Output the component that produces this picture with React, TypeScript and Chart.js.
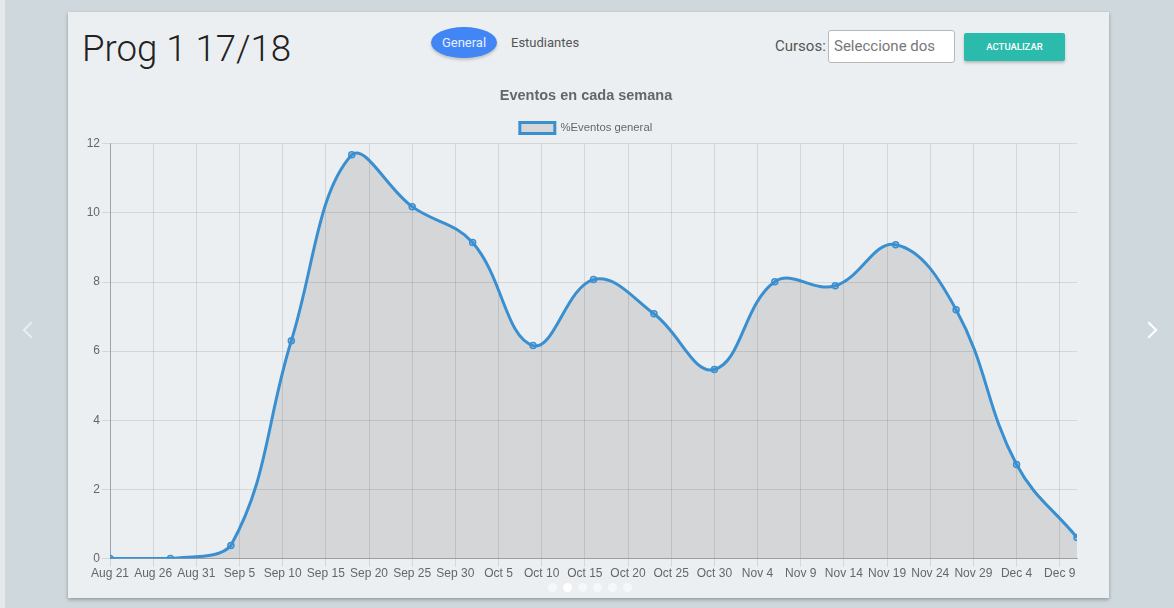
import React, { useEffect, useRef } from "react";
import { Chart, registerables } from "chart.js";

Chart.register(...registerables);

// Days since Aug 21 for each weekly sample
const weekDays = [0, 7, 14, 21, 28, 35, 42, 49, 56, 63, 70, 77, 84, 91, 98, 105, 112];
const eventPercent = [0, 0, 0.38, 6.3, 11.68, 10.18, 9.14, 6.16, 8.07, 7.08, 5.47, 8.01, 7.89, 9.08, 7.2, 2.72, 0.61];

// X axis ticks (days since Aug 21) and their labels
const tickDays = [0, 5, 10, 15, 20, 25, 30, 35, 40, 45, 50, 55, 60, 65, 70, 75, 80, 85, 90, 95, 100, 105, 110];
const tickLabels = [
  "Aug 21", "Aug 26", "Aug 31", "Sep 5", "Sep 10", "Sep 15", "Sep 20", "Sep 25", "Sep 30",
  "Oct 5", "Oct 10", "Oct 15", "Oct 20", "Oct 25", "Oct 30", "Nov 4", "Nov 9", "Nov 14",
  "Nov 19", "Nov 24", "Nov 29", "Dec 4", "Dec 9",
];

const seriesLabel = "%Eventos general";
const chartTitle = "Eventos en cada semana";

export default function App() {
  const canvasRef = useRef<HTMLCanvasElement | null>(null);

  useEffect(() => {
    const canvas = canvasRef.current;
    if (!canvas) return;
    Chart.defaults.font.family = "'Liberation Sans', Arial, Helvetica, sans-serif";
    Chart.defaults.color = "#666";
    const chart = new Chart(canvas, {
      type: "line",
      data: {
        datasets: [
          {
            label: seriesLabel,
            data: weekDays.map((d, i) => ({ x: d, y: eventPercent[i] })),
            borderColor: "#3a8fd0",
            backgroundColor: "rgba(0,0,0,0.1)",
            borderWidth: 3,
            fill: "origin",
            tension: 0.4,
            pointRadius: 3,
            pointBorderWidth: 1.5,
            pointBorderColor: "#3a8fd0",
            pointBackgroundColor: "rgba(58,143,208,0.25)",
            yAxisID: "y",
          },
        ],
      },
      options: {
        animation: false,
        responsive: false,
        maintainAspectRatio: false,
        layout: { padding: { left: 10, right: 15, top: 0, bottom: 7 } },
        plugins: {
          title: {
            display: true,
            text: chartTitle,
            font: { size: 14.5, weight: "bold" },
            color: "#666",
            padding: { top: 9, bottom: 11 },
          },
          legend: {
            display: true,
            labels: {
              boxWidth: 35,
              boxHeight: 11,
              font: { size: 11.3 },
              color: "#666",
              padding: 7,
            },
          },
          tooltip: { enabled: false },
        },
        scales: {
          x: {
            type: "linear",
            min: 0,
            max: 112,
            afterBuildTicks: (scale: any) => {
              scale.ticks = tickDays.map((v) => ({ value: v }));
            },
            ticks: {
              autoSkip: false,
              maxRotation: 0,
              padding: 0,
              font: { size: 12 },
              color: "#666",
              callback: (value: any) => {
                const idx = tickDays.indexOf(Number(value));
                return idx >= 0 ? tickLabels[idx] : "";
              },
            },
            grid: { color: "rgba(0,0,0,0.1)", tickLength: 8 },
            border: { color: "rgba(0,0,0,0.25)" },
          },
          y: {
            position: "left",
            min: 0,
            max: 12,
            afterFit: (scale: any) => {
              scale.width = 32;
            },
            ticks: { stepSize: 2, padding: 2, font: { size: 12 }, color: "#666" },
            grid: { color: "rgba(0,0,0,0.1)", tickLength: 8 },
            border: { color: "rgba(0,0,0,0.25)" },
          },
          yPad: {
            position: "right",
            min: 0,
            max: 12,
            afterFit: (scale: any) => {
              scale.width = 17;
            },
            ticks: { display: false },
            grid: { display: false, drawTicks: false },
            border: { display: false },
          },
        },
      },
    });
    return () => chart.destroy();
  }, []);

  const roboto = "Roboto, 'Noto Sans', sans-serif";

  const chevron = (left: number, dir: "l" | "r", color: string) => (
    <div
      style={{
        position: "absolute",
        left,
        top: 324,
        width: 10,
        height: 10,
        borderLeft: `2.5px solid ${color}`,
        borderBottom: `2.5px solid ${color}`,
        transform: dir === "l" ? "rotate(45deg)" : "rotate(-135deg)",
      }}
    />
  );

  return (
    <div
      style={{
        position: "fixed",
        left: 0,
        top: 0,
        width: 1174,
        height: 608,
        background: "#cfd8dc",
        overflow: "hidden",
        fontFamily: roboto,
      }}
    >
      <div style={{ position: "absolute", left: 0, top: 0, width: 5, height: 608, background: "#e4e9ec" }} />
      {/* card */}
      <div
        style={{
          position: "absolute",
          left: 68,
          top: 12,
          width: 1041,
          height: 586,
          background: "#eceff1",
          boxShadow: "0 2px 4px rgba(0,0,0,0.2), 0 1px 3px rgba(0,0,0,0.12)",
        }}
      />
      <div
        style={{
          position: "absolute",
          left: 82,
          top: 25,
          fontSize: 36.6,
          fontWeight: 300,
          color: "#222",
          lineHeight: "48px",
          whiteSpace: "nowrap",
        }}
      >
        Prog 1 17/18
      </div>
      <div
        style={{
          position: "absolute",
          left: 431,
          top: 27,
          width: 66,
          height: 31,
          borderRadius: "50%",
          background: "#4285f4",
          color: "#e8f0ff",
          fontSize: 13,
          lineHeight: "31px",
          textAlign: "center",
          boxShadow: "0 2px 3px rgba(0,0,0,0.2)",
        }}
      >
        General
      </div>
      <div
        style={{
          position: "absolute",
          left: 511,
          top: 27,
          height: 31,
          color: "#555",
          fontSize: 13,
          lineHeight: "31px",
        }}
      >
        Estudiantes
      </div>
      <div
        style={{
          position: "absolute",
          left: 775,
          top: 30,
          height: 33,
          color: "#555",
          fontSize: 15,
          lineHeight: "33px",
        }}
      >
        Cursos:
      </div>
      <div
        style={{
          position: "absolute",
          left: 828,
          top: 30,
          width: 127,
          height: 33,
          background: "#fff",
          border: "1px solid #b8b8b8",
          borderRadius: 3,
          color: "#777",
          fontSize: 15,
          lineHeight: "31px",
          paddingLeft: 5,
          boxSizing: "border-box",
          whiteSpace: "nowrap",
          overflow: "hidden",
        }}
      >
        Seleccione dos
      </div>
      <div
        style={{
          position: "absolute",
          left: 964,
          top: 33,
          width: 101,
          height: 28,
          background: "#2bbbad",
          color: "#fff",
          fontSize: 9.5,
          fontWeight: 500,
          lineHeight: "28px",
          textAlign: "center",
          borderRadius: 2,
          boxShadow: "0 2px 3px rgba(0,0,0,0.22)",
        }}
      >
        ACTUALIZAR
      </div>
      <canvas
        ref={canvasRef}
        width={1041}
        height={510}
        style={{ position: "absolute", left: 68, top: 78, width: 1041, height: 510 }}
      />
      {/* carousel arrows */}
      {chevron(25, "l", "rgba(255,255,255,0.55)")}
      {chevron(1143, "r", "#ffffff")}
      {/* carousel dots */}
      <div style={{ position: "absolute", left: 548, top: 583, display: "flex", gap: 6 }}>
        {[0, 1, 2, 3, 4, 5].map((i) => (
          <div
            key={i}
            style={{
              width: 9,
              height: 9,
              borderRadius: "50%",
              background: i === 1 ? "#fff" : "rgba(255,255,255,0.5)",
            }}
          />
        ))}
      </div>
    </div>
  );
}
